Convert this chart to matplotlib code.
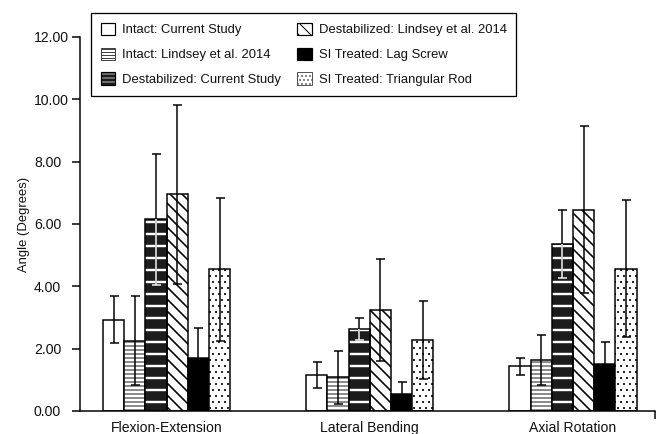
import matplotlib
matplotlib.use('Agg')
import matplotlib.pyplot as plt
import numpy as np
from matplotlib.patches import Patch

plt.rcParams['font.family'] = ['Liberation Sans', 'DejaVu Sans']

categories = ['Flexion-Extension', 'Lateral Bending', 'Axial Rotation']
series = ['Intact: Current Study', 'Intact: Lindsey et al. 2014', 'Destabilized: Current Study',
          'Destabilized: Lindsey et al. 2014', 'SI Treated: Lag Screw', 'SI Treated: Triangular Rod']

intact_current = [2.93, 1.16, 1.43]
intact_current_sd = [0.76, 0.42, 0.27]
intact_lindsey = [2.26, 1.08, 1.65]
intact_lindsey_sd = [1.42, 0.84, 0.80]
destab_current = [6.15, 2.62, 5.36]
destab_current_sd = [2.10, 0.35, 1.08]
destab_lindsey = [6.95, 3.25, 6.46]
destab_lindsey_sd = [2.88, 1.63, 2.67]
lag_screw = [1.71, 0.56, 1.51]
lag_screw_sd = [0.96, 0.37, 0.71]
triangular_rod = [4.55, 2.29, 4.56]
triangular_rod_sd = [2.30, 1.25, 2.20]

values = [intact_current, intact_lindsey, destab_current, destab_lindsey, lag_screw, triangular_rod]
errors = [intact_current_sd, intact_lindsey_sd, destab_current_sd, destab_lindsey_sd, lag_screw_sd, triangular_rod_sd]
styles = ['white', 'hlines', 'dark', 'diag', 'black', 'dots']

DPI = 72
fig = plt.figure(figsize=(660 / DPI, 434 / DPI), dpi=DPI)
ax = fig.add_axes([80 / 660, 1 - 411 / 434, 575 / 660, 374 / 434])

w = 0.1043
xc = np.arange(len(categories))
DARK = '#1c1c1c'
TXT = '#111111'


def hatched_bar(x, v, fc, ec, hatch, hlw, lw=1.5, **kw):
    with plt.rc_context({'hatch.linewidth': hlw}):
        bars = ax.bar(x, v, w, facecolor=fc, edgecolor=ec, hatch=hatch, linewidth=lw, **kw)
    for b in bars:
        if hasattr(b, 'set_hatch_linewidth'):
            b.set_hatch_linewidth(hlw)
    return bars


handles = []
for i, (vals, errs, st) in enumerate(zip(values, errors, styles)):
    x = xc + (i - 2.5) * w
    if st == 'white':
        ax.bar(x, vals, w, facecolor='white', edgecolor='black', linewidth=1.5, zorder=2)
        h = Patch(facecolor='white', edgecolor='black', linewidth=1.2)
    elif st == 'hlines':
        hatched_bar(x, vals, 'white', 'black', '---', 0.9, zorder=2)
        with plt.rc_context({'hatch.linewidth': 0.8}):
            h = Patch(facecolor='white', edgecolor='#444444', hatch='----', linewidth=1.0)
    elif st == 'dark':
        hatched_bar(x, vals, DARK, 'white', '-', 2.4, lw=0, zorder=2)
        ax.bar(x, vals, w, facecolor='none', edgecolor='black', linewidth=1.5, zorder=3)
        with plt.rc_context({'hatch.linewidth': 1.2}):
            h = (Patch(facecolor=DARK, edgecolor='#bbbbbb', hatch='---', linewidth=0),
                 Patch(facecolor='none', edgecolor='black', linewidth=1.2))
    elif st == 'diag':
        hatched_bar(x, vals, 'white', 'black', '\\\\', 1.6, zorder=2)
        with plt.rc_context({'hatch.linewidth': 1.6}):
            h = Patch(facecolor='white', edgecolor='black', hatch='\\\\', linewidth=1.2)
    elif st == 'black':
        ax.bar(x, vals, w, facecolor='black', edgecolor='black', linewidth=1.5, zorder=2)
        h = Patch(facecolor='black', edgecolor='black', linewidth=1.2)
    else:
        hatched_bar(x, vals, 'white', 'black', '..', 0.8, zorder=2)
        with plt.rc_context({'hatch.linewidth': 0.6}):
            h = Patch(facecolor='white', edgecolor='#555555', hatch='...', linewidth=1.0)
    handles.append(h)

    ax.errorbar(x, vals, yerr=errs, fmt='none', ecolor='black', elinewidth=1.5,
                capsize=4.5, capthick=1.5, zorder=5)
    if st == 'dark':
        lo = np.array(vals) - np.array(errs)
        ax.vlines(x, lo, vals, color='white', linewidth=1.5, zorder=6)
        ax.plot(x, lo, linestyle='none', marker='_', markersize=9, markeredgewidth=1.5,
                color='white', zorder=6)

xlim = (-0.4256, 2.4034)
ax.set_xlim(*xlim)
ax.set_ylim(0, 12)

ax.set_xticks(xc)
ax.set_xticklabels(categories, fontsize=14, color=TXT)
ax.tick_params(axis='x', which='major', length=0, pad=10)
ax.set_xticks([xlim[1]], minor=True)
ax.tick_params(axis='x', which='minor', length=8, width=1.5, direction='out')

yt = np.arange(0, 13, 2)
ax.set_yticks(yt)
ax.set_yticklabels(['%.2f' % t for t in yt], fontsize=14, color=TXT, ha='left')
ax.tick_params(axis='y', length=8, width=1.5, pad=38, direction='out')
ax.set_ylabel('Angle (Degrees)', fontsize=13, color=TXT)
ax.yaxis.set_label_coords(-0.087, 0.5)

for s in ['top', 'right']:
    ax.spines[s].set_visible(False)
for s in ['left', 'bottom']:
    ax.spines[s].set_linewidth(1.5)

leg = ax.legend(handles, series, loc='upper left', bbox_to_anchor=(0.019, 1.064),
                borderaxespad=0, ncol=2, fontsize=13, frameon=True, fancybox=False,
                framealpha=1, edgecolor='black', handlelength=1.1, handleheight=1.1,
                handletextpad=0.55, columnspacing=1.25, labelspacing=0.85, borderpad=0.75)
leg.get_frame().set_linewidth(1.3)
for t in leg.get_texts():
    t.set_color(TXT)

fig.savefig('out.png', dpi=DPI)
